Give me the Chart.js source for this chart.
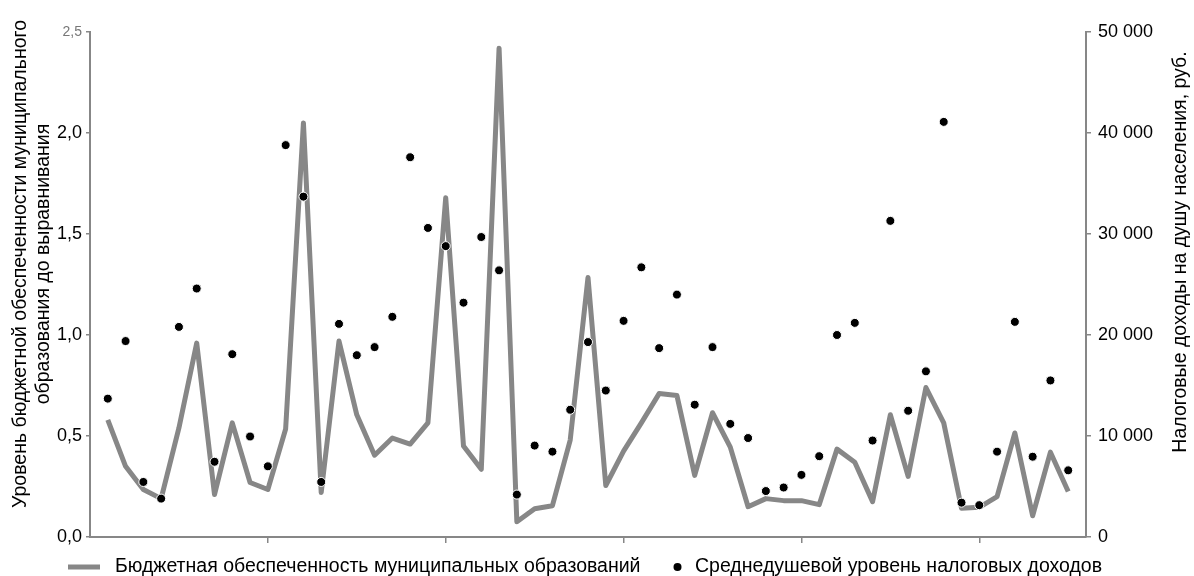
<!DOCTYPE html>
<html lang="ru">
  <head>
    <meta charset="utf-8" />
    <title>Бюджетная обеспеченность и налоговые доходы</title>
    <script src="https://cdn.jsdelivr.net/npm/chart.js@4.4.1/dist/chart.umd.min.js"></script>
    <style>
      html, body { margin: 0; padding: 0; background: #fff; }
      #wrap { width: 1194px; height: 576px; position: relative; }
    </style>
  </head>
  <body>
    <div id="wrap"><canvas id="chart"></canvas></div>
    <script>
      // номера муниципальных образований
      const municipalities = [
        1, 2, 3, 4, 5, 6, 7, 8, 9, 10, 11, 12, 13, 14, 15, 16, 17, 18, 19, 20,
        21, 22, 23, 24, 25, 26, 27, 28, 29, 30, 31, 32, 33, 34, 35, 36, 37, 38, 39, 40,
        41, 42, 43, 44, 45, 46, 47, 48, 49, 50, 51, 52, 53, 54, 55,
      ];

      // уровень бюджетной обеспеченности до выравнивания (левая ось)
      const budgetLevel = [
        0.58, 0.35, 0.235, 0.19, 0.54, 0.96, 0.21, 0.565, 0.27, 0.235,
        0.535, 2.05, 0.22, 0.97, 0.605, 0.405, 0.49, 0.46, 0.565, 1.68,
        0.45, 0.335, 2.42, 0.075, 0.14, 0.155, 0.48, 1.285, 0.255, 0.425,
        0.565, 0.71, 0.7, 0.305, 0.615, 0.445, 0.15, 0.19, 0.18, 0.18,
        0.16, 0.435, 0.37, 0.175, 0.605, 0.3, 0.74, 0.565, 0.142, 0.147,
        0.2, 0.515, 0.105, 0.42, 0.225,
      ];

      // налоговые доходы на душу населения, руб. (правая ось)
      const taxPerCapita = [
        13700, 19400, 5450, 3800, 20800, 24600, 7450, 18100, 9950, 7000,
        38800, 33700, 5450, 21100, 18000, 18800, 21800, 37600, 30600, 28800,
        23200, 29700, 26400, 4200, 9050, 8450, 12600, 19300, 14500, 21400,
        26700, 18700, 24000, 13100, 18800, 11200, 9800, 4550, 4900, 6150,
        8000, 20000, 21200, 9550, 31300, 12500, 16400, 41100, 3400, 3150,
        8450, 21300, 7950, 15500, 6600,
      ];

      const budgetTickLabels = ["0,0", "0,5", "1,0", "1,5", "2,0", "2,5"];
      const taxTickLabels = ["0", "10 000", "20 000", "30 000", "40 000", "50 000"];

      const leftTitle = [
        "Уровень бюджетной обеспеченности муниципального",
        "образования до выравнивания",
      ];
      const rightTitle = "Налоговые доходы на душу населения, руб.";
      const budgetLabel = "Бюджетная обеспеченность муниципальных образований";
      const taxLabel = "Среднедушевой уровень налоговых доходов";

      const GRAY = "#878787";
      const FONT = '"Liberation Sans", Arial, Helvetica, sans-serif';

      // подписи осей и легенда
      const decorations = {
        id: "decorations",
        afterDraw(chart) {
          const c = chart.ctx;
          c.save();
          c.fillStyle = "#000";
          c.font = "19.5px " + FONT;
          c.textAlign = "center";
          c.textBaseline = "middle";
          leftTitle.forEach((line, i) => {
            c.save();
            c.translate(21 + i * 23, 264);
            c.rotate(-Math.PI / 2);
            c.fillText(line, 0, 0);
            c.restore();
          });
          c.save();
          c.translate(1181, 252);
          c.rotate(-Math.PI / 2);
          c.fillText(rightTitle, 0, 0);
          c.restore();

          // легенда
          const ly = 567;
          c.strokeStyle = GRAY;
          c.lineWidth = 5;
          c.beginPath();
          c.moveTo(68, ly);
          c.lineTo(100, ly);
          c.stroke();
          c.textAlign = "left";
          c.fillText(budgetLabel, 115, ly);
          c.beginPath();
          c.arc(677.5, ly, 4, 0, Math.PI * 2);
          c.fill();
          c.fillText(taxLabel, 695, ly);
          c.restore();
        },
      };

      const ctx = document.getElementById("chart").getContext("2d");
      const chart = new Chart(ctx, {
        type: "line",
        data: {
          datasets: [
            {
              type: "scatter",
              label: taxLabel,
              data: taxPerCapita.map((v, i) => ({ x: municipalities[i], y: v })),
              yAxisID: "yTax",
              backgroundColor: "#000",
              borderColor: "#fff",
              borderWidth: 1,
              pointRadius: 4.5,
              order: 0,
            },
            {
              type: "line",
              label: budgetLabel,
              data: budgetLevel.map((v, i) => ({ x: municipalities[i], y: v })),
              yAxisID: "yBudget",
              borderColor: GRAY,
              borderWidth: 5,
              borderJoinStyle: "round",
              pointRadius: 0,
              tension: 0,
              fill: false,
              order: 1,
            },
          ],
        },
        options: {
          responsive: true,
          maintainAspectRatio: false,
          animation: false,
          layout: { padding: { top: 32, left: 0, right: 0, bottom: 0 } },
          plugins: {
            legend: { display: false },
            tooltip: { enabled: false },
          },
          scales: {
            x: {
              type: "linear",
              min: 0,
              max: 56,
              ticks: { stepSize: 10, display: false, includeBounds: false },
              afterBuildTicks: (s) => {
                s.ticks = s.ticks.filter((t) => t.value > 0);
              },
              afterFit: (s) => {
                s.height = 39;
              },
              grid: { drawOnChartArea: false, tickLength: 6, color: GRAY, lineWidth: 1.5 },
              border: { color: GRAY, width: 2 },
            },
            yBudget: {
              position: "left",
              min: 0,
              max: 2.5,
              ticks: {
                stepSize: 0.5,
                padding: 4,
                callback: (v, i) => budgetTickLabels[i],
                color: (c) => (c.tick && c.tick.value === 2.5 ? "#777" : "#000"),
                font: (c) => ({
                  family: FONT,
                  size: c.tick && c.tick.value === 2.5 ? 14 : 18,
                }),
              },
              afterFit: (s) => {
                s.width = 90;
              },
              grid: { drawOnChartArea: false, tickLength: 4, color: GRAY, lineWidth: 1.5 },
              border: { color: GRAY, width: 2 },
            },
            yTax: {
              position: "right",
              min: 0,
              max: 50000,
              ticks: {
                stepSize: 10000,
                padding: 7,
                color: "#000",
                font: { family: FONT, size: 18 },
                callback: (v, i) => taxTickLabels[i],
              },
              afterFit: (s) => {
                s.width = 108;
              },
              grid: { drawOnChartArea: false, tickLength: 5, color: GRAY, lineWidth: 1.5 },
              border: { color: GRAY, width: 2 },
            },
          },
        },
        plugins: [decorations],
      });
    </script>
  </body>
</html>
